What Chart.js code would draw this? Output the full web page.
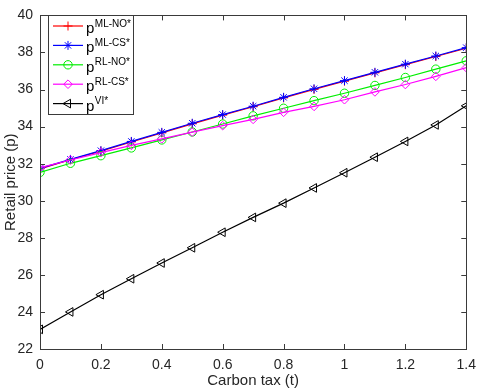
<!DOCTYPE html>
<html lang="en">

<head>
    <meta charset="UTF-8">
    <title>Retail price vs carbon tax</title>
    <style>
        body { margin: 0; background: #fff; }
        canvas { display: block; }
    </style>
</head>

<body>
    <canvas id="myChart" width="484" height="391"></canvas>

    <script src="https://cdn.jsdelivr.net/npm/chart.js"></script>

    <script>
        // carbon tax values (x)
        var taxas = [0, 0.1, 0.2, 0.3, 0.4, 0.5, 0.6, 0.7, 0.8, 0.9, 1.0, 1.1, 1.2, 1.3, 1.4];

        // retail price for each scenario
        var precoMlNo = [31.72, 32.21, 32.68, 33.17, 33.66, 34.15, 34.62, 35.07, 35.55, 36.01, 36.45, 36.9, 37.34, 37.78, 38.23];
        var precoMlCs = [31.74, 32.23, 32.7, 33.2, 33.69, 34.18, 34.65, 35.1, 35.58, 36.04, 36.48, 36.93, 37.37, 37.81, 38.26];
        var precoRlNo = [31.53, 32.02, 32.43, 32.85, 33.28, 33.71, 34.14, 34.58, 34.99, 35.4, 35.8, 36.22, 36.65, 37.1, 37.55];
        var precoRlCs = [31.79, 32.2, 32.6, 32.99, 33.34, 33.7, 34.05, 34.39, 34.77, 35.09, 35.45, 35.87, 36.27, 36.71, 37.18];
        var precoVi = [23.06, 24.0, 24.93, 25.79, 26.64, 27.46, 28.3, 29.1, 29.87, 30.69, 31.51, 32.35, 33.2, 34.09, 35.12];

        // tick labels
        var ticksX = [0, 0.2, 0.4, 0.6, 0.8, 1, 1.2, 1.4];
        var ticksY = [22, 24, 26, 28, 30, 32, 34, 36, 38, 40];

        // legend superscripts
        var legendas = ['ML-NO*', 'ML-CS*', 'RL-NO*', 'RL-CS*', 'VI*'];

        var corEixo = '#3a3a3a';
        var fonte = '"Liberation Sans", Arial, sans-serif';

        function pontos(valores) {
            var lista = [];
            for (var i = 0; i < taxas.length; i++) {
                lista.push({ x: taxas[i], y: valores[i] });
            }
            return lista;
        }

        function serie(nome, valores, cor, estilo, raio, rotacao, ordem) {
            return {
                label: nome,
                data: pontos(valores),
                borderColor: cor,
                backgroundColor: 'transparent',
                borderWidth: 1.2,
                pointStyle: estilo,
                pointRadius: raio,
                pointRotation: rotacao,
                pointBorderColor: cor,
                pointBackgroundColor: 'transparent',
                pointBorderWidth: 1,
                fill: false,
                tension: 0,
                order: ordem
            };
        }

        var dados = {
            datasets: [
                serie(legendas[0], precoMlNo, '#ff0000', 'cross', 4.5, 0, 5),
                serie(legendas[1], precoMlCs, '#0000ff', 'star', 4.5, 0, 4),
                serie(legendas[2], precoRlNo, '#00ee00', 'circle', 4.2, 0, 3),
                serie(legendas[3], precoRlCs, '#ff00ff', 'rectRot', 4.3, 0, 2),
                serie(legendas[4], precoVi, '#000000', 'triangle', 5, -90, 1)
            ]
        };

        // box + inward ticks + legend with superscripts
        var molduraPlugin = {
            id: 'moldura',
            afterDraw: function (chart) {
                var ctx = chart.ctx;
                var area = chart.chartArea;
                var sx = chart.scales.x;
                var sy = chart.scales.y;
                var tam = 5;

                ctx.save();
                ctx.strokeStyle = corEixo;
                ctx.lineWidth = 1;
                ctx.strokeRect(Math.round(area.left) + 0.5, Math.round(area.top) + 0.5,
                    Math.round(area.right - area.left), Math.round(area.bottom - area.top));

                ctx.beginPath();
                ticksX.forEach(function (v) {
                    var px = Math.round(sx.getPixelForValue(v)) + 0.5;
                    ctx.moveTo(px, area.bottom);
                    ctx.lineTo(px, area.bottom - tam);
                    ctx.moveTo(px, area.top);
                    ctx.lineTo(px, area.top + tam);
                });
                ticksY.forEach(function (v) {
                    var py = Math.round(sy.getPixelForValue(v)) + 0.5;
                    ctx.moveTo(area.left, py);
                    ctx.lineTo(area.left + tam, py);
                    ctx.moveTo(area.right, py);
                    ctx.lineTo(area.right - tam, py);
                });
                ctx.stroke();

                // legend
                var lx = 48.5, ly = 15.5, lw = 85, lh = 99;
                ctx.fillStyle = '#fff';
                ctx.fillRect(lx, ly, lw, lh);
                ctx.strokeStyle = corEixo;
                ctx.strokeRect(lx, ly, lw, lh);

                for (var i = 0; i < chart.data.datasets.length; i++) {
                    var ds = chart.data.datasets[i];
                    var yl = 26 + i * 19.4;
                    ctx.strokeStyle = ds.borderColor;
                    ctx.lineWidth = ds.borderWidth;
                    ctx.beginPath();
                    ctx.moveTo(53, yl);
                    ctx.lineTo(83, yl);
                    ctx.stroke();

                    ctx.fillStyle = 'transparent';
                    ctx.lineWidth = 1;
                    Chart.helpers.drawPoint(ctx, {
                        pointStyle: ds.pointStyle,
                        radius: ds.pointRadius,
                        rotation: ds.pointRotation,
                        borderWidth: 1
                    }, 68, yl);

                    ctx.fillStyle = '#000';
                    ctx.textBaseline = 'alphabetic';
                    ctx.textAlign = 'left';
                    ctx.font = '15px ' + fonte;
                    ctx.fillText('p', 86, yl + 7);
                    var wp = ctx.measureText('p').width;
                    ctx.font = '10px ' + fonte;
                    ctx.fillText(ds.label, 86 + wp + 0.5, yl + 0.5);
                }
                ctx.restore();
            }
        };

        var config = {
            type: 'line',
            data: dados,
            options: {
                responsive: false,
                animation: false,
                layout: {
                    padding: { top: 6, right: 10, left: 0, bottom: 0 }
                },
                scales: {
                    x: {
                        type: 'linear',
                        min: 0,
                        max: 1.4,
                        afterFit: function (scale) { scale.height = 42; },
                        afterBuildTicks: function (scale) {
                            scale.ticks = ticksX.map(function (v) { return { value: v }; });
                        },
                        grid: { display: false, drawTicks: false },
                        border: { display: false },
                        ticks: {
                            color: '#262626',
                            padding: 8,
                            maxRotation: 0,
                            autoSkip: false,
                            font: { size: 14, family: fonte },
                            callback: function (v) { return String(Math.round(v * 10) / 10); }
                        },
                        title: {
                            display: true,
                            text: 'Carbon tax (t)',
                            color: '#262626',
                            padding: { top: 0, bottom: 1 },
                            font: { size: 15, family: fonte }
                        }
                    },
                    y: {
                        min: 22,
                        max: 40,
                        afterFit: function (scale) { scale.width = 40; },
                        afterBuildTicks: function (scale) {
                            scale.ticks = ticksY.map(function (v) { return { value: v }; });
                        },
                        grid: { display: false, drawTicks: false },
                        border: { display: false },
                        ticks: {
                            color: '#262626',
                            padding: 7,
                            autoSkip: false,
                            font: { size: 14, family: fonte }
                        },
                        title: {
                            display: true,
                            text: 'Retail price (p)',
                            color: '#262626',
                            padding: { top: 2, bottom: 0 },
                            font: { size: 15, family: fonte }
                        }
                    }
                },
                plugins: {
                    legend: { display: false },
                    tooltip: { enabled: false }
                }
            },
            plugins: [molduraPlugin]
        };

        var myChart = new Chart(
            document.getElementById('myChart'),
            config
        );
    </script>
</body>

</html>
